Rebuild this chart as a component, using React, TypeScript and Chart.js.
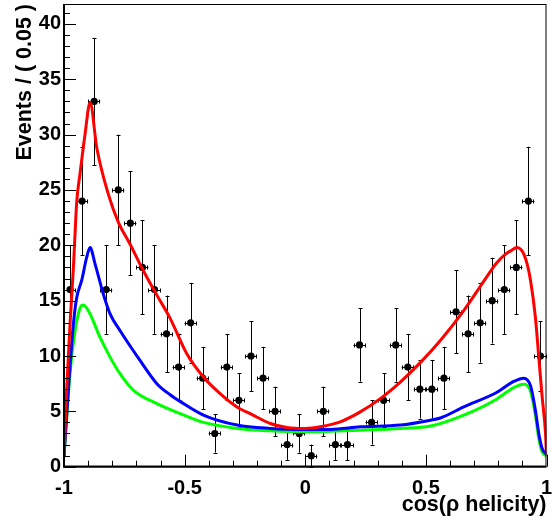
import React, { useEffect, useRef } from "react";
import { Chart, registerables } from "chart.js";

Chart.register(...registerables);

// ---- data ----
const binCenters = [
  -0.975, -0.925, -0.875, -0.825, -0.775, -0.725, -0.675, -0.625, -0.575, -0.525,
  -0.475, -0.425, -0.375, -0.325, -0.275, -0.225, -0.175, -0.125, -0.075, -0.025,
  0.025, 0.075, 0.125, 0.175, 0.225, 0.275, 0.325, 0.375, 0.425, 0.475,
  0.525, 0.575, 0.625, 0.675, 0.725, 0.775, 0.825, 0.875, 0.925, 0.975,
];
const counts = [
  16, 24, 33, 16, 25, 22, 18, 16, 12, 9,
  13, 8, 3, 9, 6, 10, 8, 5, 2, 3,
  1, 5, 2, 2, 11, 4, 6, 11, 9, 7,
  7, 8, 14, 12, 13, 15, 16, 18, 24, 10,
];
const binHalfWidth = 0.025;

const redX = [-1, -0.989, -0.975, -0.961, -0.947, -0.934, -0.913, -0.892, -0.864, -0.816, -0.775, -0.726, -0.671, -0.615, -0.56, -0.491, -0.422, -0.353, -0.283, -0.22, -0.145, -0.076, 0.0, 0.062, 0.145, 0.228, 0.311, 0.394, 0.477, 0.56, 0.657, 0.726, 0.76, 0.793, 0.83, 0.851, 0.878, 0.895, 0.906, 0.92, 0.934, 0.954, 0.968, 0.982, 0.996, 1.0];
const redY = [0.9, 6.9, 12.9, 18.0, 24.0, 26.4, 30.0, 32.9, 28.8, 24.6, 22.1, 20.1, 17.7, 15.5, 13.4, 10.2, 8.1, 6.6, 5.4, 4.7, 3.9, 3.55, 3.45, 3.6, 4.05, 4.95, 6.15, 7.65, 9.4, 11.4, 14.1, 16.3, 17.4, 18.4, 19.2, 19.5, 19.8, 19.6, 19.2, 18.3, 16.8, 13.5, 9.9, 6.3, 3.0, 1.0];

const blueX = [-1, -0.982, -0.961, -0.947, -0.927, -0.906, -0.892, -0.871, -0.837, -0.809, -0.768, -0.685, -0.615, -0.56, -0.519, -0.422, -0.283, -0.145, 0.0, 0.104, 0.228, 0.394, 0.519, 0.56, 0.657, 0.793, 0.864, 0.906, 0.934, 0.954, 0.968, 0.982, 1.0];
const blueY = [0.9, 6.9, 12.9, 15.3, 16.8, 18.9, 19.8, 18.3, 15.6, 13.8, 12.3, 9.6, 7.5, 6.5, 5.9, 4.66, 3.76, 3.46, 3.37, 3.37, 3.6, 3.76, 4.2, 4.4, 5.4, 6.7, 7.7, 8.0, 7.3, 5.1, 3.0, 1.65, 1.1];

const greenX = [-1, -0.975, -0.954, -0.934, -0.92, -0.892, -0.851, -0.809, -0.768, -0.712, -0.615, -0.519, -0.422, -0.283, -0.145, 0.0, 0.104, 0.228, 0.394, 0.519, 0.657, 0.793, 0.864, 0.906, 0.934, 0.954, 0.968, 0.982, 1.0];
const greenY = [0.9, 8.4, 12.3, 14.3, 14.6, 13.8, 11.7, 9.9, 8.4, 6.9, 5.7, 4.8, 4.0, 3.46, 3.24, 3.15, 3.2, 3.3, 3.46, 3.67, 4.66, 6.1, 7.15, 7.45, 6.8, 4.66, 2.56, 1.35, 0.96];

const xTickValues = [-1, -0.5, 0, 0.5, 1];
const xTickLabels = ["-1", "-0.5", "0", "0.5", "1"];
const yTickValues = [0, 5, 10, 15, 20, 25, 30, 35, 40];

const xTitle = "cos(\u03c1 helicity)";
const yTitle = "Events / ( 0.05 )";

const FONT = "'Liberation Sans', Arial, Helvetica, sans-serif";

const errorBarPlugin = {
  id: "errorBars",
  beforeDatasetsDraw(chart: any) {
    const { ctx, scales } = chart;
    const x = scales.x;
    const y = scales.y;
    ctx.save();
    ctx.strokeStyle = "#000";
    ctx.lineWidth = 1;
    ctx.beginPath();
    for (let i = 0; i < counts.length; i++) {
      const c = counts[i];
      const e = Math.sqrt(c);
      const px = Math.round(x.getPixelForValue(binCenters[i])) + 0.5;
      const py = Math.round(y.getPixelForValue(c)) + 0.5;
      const pTop = y.getPixelForValue(c + e);
      const pBot = y.getPixelForValue(c - e);
      const pl = x.getPixelForValue(binCenters[i] - binHalfWidth);
      const pr = x.getPixelForValue(binCenters[i] + binHalfWidth);
      ctx.moveTo(px, pTop);
      ctx.lineTo(px, pBot);
      ctx.moveTo(px - 2, Math.round(pTop) + 0.5);
      ctx.lineTo(px + 2, Math.round(pTop) + 0.5);
      ctx.moveTo(px - 2, Math.round(pBot) + 0.5);
      ctx.lineTo(px + 2, Math.round(pBot) + 0.5);
      ctx.moveTo(pl, py);
      ctx.lineTo(pr, py);
      const plr = Math.round(pl) + 0.5;
      const prr = Math.round(pr) - 0.5;
      ctx.moveTo(plr, py - 2);
      ctx.lineTo(plr, py + 2);
      ctx.moveTo(prr, py - 2);
      ctx.lineTo(prr, py + 2);
    }
    ctx.stroke();
    ctx.restore();
  },
};

const framePlugin = {
  id: "frame",
  afterDatasetsDraw(chart: any) {
    const { ctx, chartArea, scales } = chart;
    const x = scales.x;
    const y = scales.y;
    const { left, right, top, bottom } = chartArea;
    ctx.save();
    ctx.strokeStyle = "#000";
    ctx.lineWidth = 1;
    ctx.strokeRect(left + 0.5, top + 0.5, right - left - 1, bottom - top - 1);
    ctx.lineWidth = 2;
    ctx.beginPath();
    ctx.moveTo(left, top);
    ctx.lineTo(left, bottom);
    ctx.lineTo(right, bottom);
    ctx.stroke();
    ctx.lineWidth = 1;
    ctx.beginPath();
    for (let k = 0; k <= 41; k++) {
      const py = Math.round(y.getPixelForValue(k)) + 0.5;
      if (py < top) continue;
      const len = k % 5 === 0 ? 12 : 6;
      ctx.moveTo(left, py);
      ctx.lineTo(left + len, py);
    }
    for (let k = -10; k <= 10; k++) {
      const px = Math.round(x.getPixelForValue(k / 10)) + 0.5;
      const len = k % 5 === 0 ? 12 : 6;
      ctx.moveTo(px, bottom);
      ctx.lineTo(px, bottom - len);
    }
    ctx.stroke();
    ctx.restore();
  },
};

export default function App() {
  const canvasRef = useRef<HTMLCanvasElement | null>(null);

  useEffect(() => {
    const canvas = canvasRef.current;
    if (!canvas) return;
    const toPts = (xs: number[], ys: number[]) => xs.map((v, i) => ({ x: v, y: ys[i] }));
    const curve = (label: string, color: string, xs: number[], ys: number[]) => ({
      type: "line" as const,
      label,
      data: toPts(xs, ys),
      borderColor: color,
      backgroundColor: color,
      borderWidth: 3,
      pointRadius: 0,
      fill: false,
      cubicInterpolationMode: "monotone" as const,
    });
    const chart = new Chart(canvas, {
      type: "scatter",
      data: {
        datasets: [
          curve("total", "#ff0000", redX, redY),
          curve("bkg2", "#0000ff", blueX, blueY),
          curve("bkg1", "#00ff00", greenX, greenY),
          {
            type: "scatter",
            label: "data",
            data: toPts(binCenters, counts),
            pointRadius: 3.6,
            pointBackgroundColor: "#000",
            pointBorderWidth: 0,
            showLine: false,
          } as any,
        ],
      },
      options: {
        animation: false,
        responsive: true,
        maintainAspectRatio: false,
        layout: { padding: { left: 0, right: 6.5, top: 3, bottom: 0 } },
        plugins: { legend: { display: false }, tooltip: { enabled: false } },
        scales: {
          x: {
            type: "linear",
            min: -1,
            max: 1,
            grid: { display: false, drawTicks: false },
            border: { display: false },
            afterFit: (s: any) => {
              s.height = 54.3;
              s.paddingLeft = 0;
              s.paddingRight = 0;
              s.paddingTop = 0;
              s.paddingBottom = 0;
            },
            afterBuildTicks: (s: any) => {
              s.ticks = xTickValues.map((v) => ({ value: v }));
            },
            ticks: {
              autoSkip: false,
              maxRotation: 0,
              padding: 10,
              color: "#000",
              font: { family: FONT, size: 20, weight: "bold" },
              callback: (v: any) => {
                const i = xTickValues.indexOf(Number(v));
                return i >= 0 ? xTickLabels[i] : "";
              },
            },
            title: {
              display: true,
              text: xTitle,
              align: "end",
              color: "#000",
              font: { family: FONT, size: 21.5, weight: "bold" },
              padding: { top: 0, bottom: 3 },
            },
          },
          y: {
            type: "linear",
            min: 0,
            max: 41.8,
            grid: { display: false, drawTicks: false },
            border: { display: false },
            afterFit: (s: any) => {
              s.width = 64;
              s.paddingLeft = 0;
              s.paddingRight = 0;
              s.paddingTop = 0;
              s.paddingBottom = 0;
            },
            afterBuildTicks: (s: any) => {
              s.ticks = yTickValues.map((v) => ({ value: v }));
            },
            ticks: {
              autoSkip: false,
              padding: 3,
              color: "#000",
              font: { family: FONT, size: 20, weight: "bold" },
              callback: (v: any) => String(v),
            },
            title: {
              display: true,
              text: yTitle,
              align: "end",
              color: "#000",
              font: { family: FONT, size: 21.5, weight: "bold" },
              padding: { top: 12, bottom: 0 },
            },
          },
        },
      },
      plugins: [errorBarPlugin, framePlugin],
    } as any);
    return () => chart.destroy();
  }, []);

  return (
    <div style={{ position: "fixed", left: 0, top: 0, width: 553, height: 521, background: "#fff" }}>
      <canvas ref={canvasRef} />
    </div>
  );
}
